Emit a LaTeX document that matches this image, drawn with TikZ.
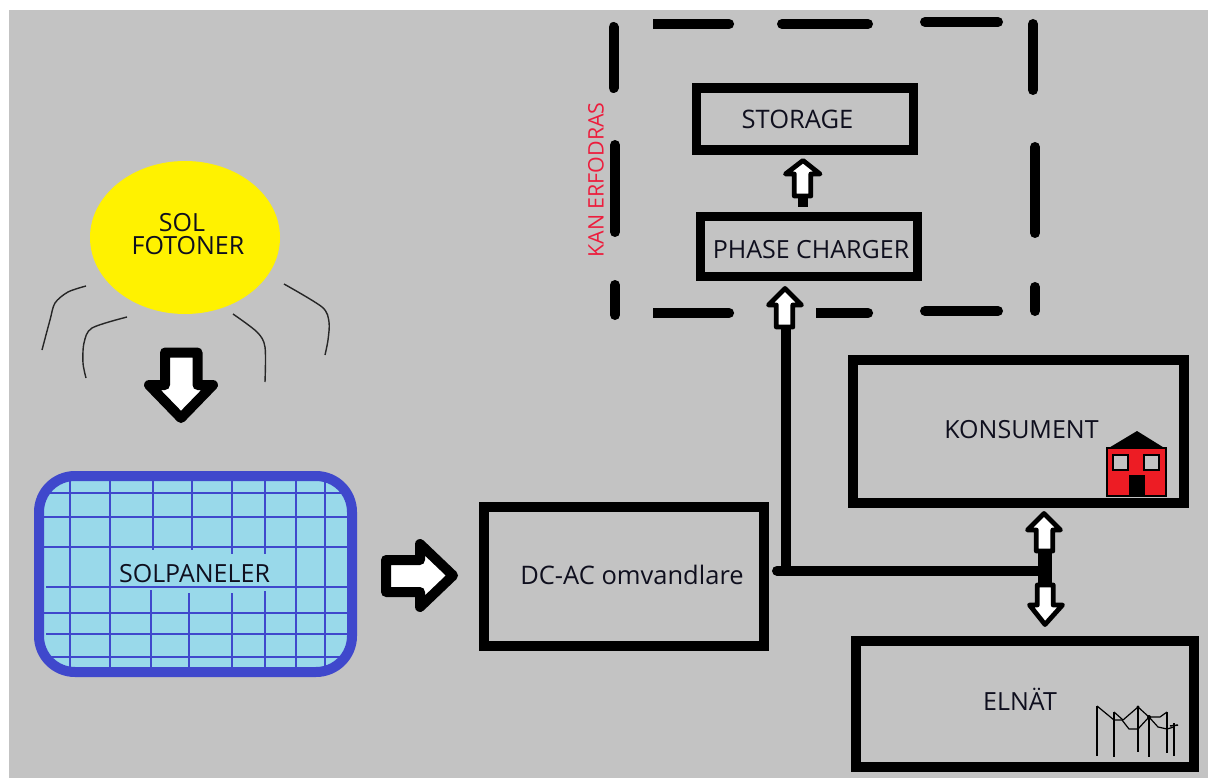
\documentclass[tikz,border=0pt]{standalone}
\usepackage{fontspec}
\usetikzlibrary{shapes.geometric}
\setmainfont{Open Sans}
\definecolor{bgray}{RGB}{195,195,195}
\definecolor{sunyel}{RGB}{255,242,0}
\definecolor{panelfill}{RGB}{153,217,234}
\definecolor{panelblue}{RGB}{63,72,204}
\definecolor{housered}{RGB}{237,28,36}
\definecolor{inktext}{RGB}{15,15,30}
\definecolor{kanred}{RGB}{237,28,60}
\tikzset{
  boxnode/.style={draw=black,line width=9.6pt,fill=none,inner sep=0pt,outer sep=0pt,rectangle},
  labelnode/.style={text=inktext,inner sep=0pt,font=\fontsize{25}{25}\selectfont},
  dashbar/.style={line width=10pt,line cap=round,black},
  wire/.style={line width=10pt,black},
  bigarrow/.style={draw=black,fill=white,line width=10pt,line join=round},
  smallarrow/.style={draw=black,fill=white,line width=4.8pt,line join=round},
  ray/.style={line width=1.4pt,black!85,line join=round},
  gridline/.style={line width=1.6pt,panelblue},
  pole/.style={line width=1.5pt,black},
  powerline/.style={line width=1.2pt,black,line join=round},
}
\begin{document}
\begin{tikzpicture}[x=1pt,y=-1pt]
\useasboundingbox (0,0) rectangle (1208,778);
\fill[white] (0,0) rectangle (1208,778);
\fill[bgray] (9,10) rectangle (1208,778);

% sun
\node[ellipse,fill=sunyel,minimum width=190pt,minimum height=153pt,inner sep=0pt] (sun) at (185,237.5) {};
\draw[ray] plot[smooth,tension=.5] coordinates {(86,286) (68,292) (55,303) (50,320) (42,350)};
\draw[ray] plot[smooth,tension=.5] coordinates {(127,317) (92,328) (84,343) (83,363) (86,378)};
\draw[ray] plot[smooth,tension=.5] coordinates {(233,314) (257,332) (265,347) (265,382)};
\draw[ray] plot[smooth,tension=.5] coordinates {(284,284) (322,307) (329,322) (328,340) (325,355)};

% solar panel
\node[draw=panelblue,line width=10pt,fill=panelfill,rounded corners=36pt,minimum width=313pt,minimum height=196pt,inner sep=0pt] (panel) at (195.5,574) {};
\foreach \x in {70,110,296,325} \draw[gridline] (\x,481) -- (\x,667);
\foreach \x/\a/\b in {153/481/550,192/481/550,232/481/554,265/481/554,151/590/667,189/593/667,232/593/667,265/591/667}
  \draw[gridline] (\x,\a) -- (\x,\b);
\foreach \y/\a/\b in {493/50/343,517/44/347,547/44/347,587/46/347,613/44/347,634/46/347,657/50/340}
  \draw[gridline] (\a,\y) -- (\b,\y);

% boxes
\node[boxnode,minimum width=280pt,minimum height=139.5pt] (dcac) at (624,576.5) {};
\node[boxnode,minimum width=217pt,minimum height=62.5pt] (storage) at (805,119) {};
\node[boxnode,minimum width=217pt,minimum height=60pt] (phase) at (809,246.5) {};
\node[boxnode,minimum width=331pt,minimum height=143.5pt] (konsument) at (1018.5,431.5) {};
\node[boxnode,minimum width=338.5pt,minimum height=126pt] (elnat) at (1025,704) {};

% dashed frame
\draw[dashbar] (613.5,27) -- (613.5,88);
\draw[dashbar] (615,145) -- (615,232);
\draw[dashbar] (615,285) -- (615,315);
\draw[dashbar] (1033,24) -- (1033,90);
\draw[dashbar] (1035,147) -- (1035,233);
\draw[dashbar] (1035,287) -- (1035,311);
\draw[dashbar,line cap=butt] (653,24) -- (729,24);
\draw[dashbar] (729,24) -- (729.1,24);
\draw[dashbar] (782,24) -- (868,24);
\draw[dashbar] (925,22) -- (998,22);
\draw[dashbar,line cap=butt] (653,313) -- (729,313);
\draw[dashbar] (729,313) -- (729.1,313);
\draw[dashbar,line cap=butt] (816,313) -- (868,313);
\draw[dashbar] (868,313) -- (868.1,313);
\draw[dashbar] (925,311) -- (998,311);

% connectors
\coordinate (wirestart) at (777,570.7);
\coordinate (branch) at (786,570.7);
\coordinate (junction) at (1045,570.7);
\coordinate (jtop) at (1045,551);
\coordinate (jbot) at (1045,585);
\coordinate (phasein) at (786,327);
\coordinate (stubtop) at (803,196);
\coordinate (stubbot) at (803,207);
\draw[line width=10pt,line cap=round] (wirestart) -- (junction);
\draw[wire] (branch) -- (phasein);
\draw[line width=14pt] (jtop) -- (jbot);
\draw[wire] (stubtop) -- (stubbot);

% block arrows
\draw[bigarrow] (165,352.5) -- (197.5,352.5) -- (197.5,385) -- (213,385) -- (181,418) -- (149,385) -- (165,385) -- cycle;
\draw[bigarrow] (386,560) -- (420,560) -- (420,544) -- (453,575.5) -- (420,607) -- (420,592) -- (386,592) -- cycle;
\draw[smallarrow] (794.3,196) -- (794.3,174) -- (785.5,174) -- (803,160.5) -- (820,174) -- (810.8,174) -- (810.8,196) -- cycle;
\draw[smallarrow] (776.3,327) -- (776.3,305) -- (768.5,305) -- (785,288.5) -- (801.5,305) -- (792.8,305) -- (792.8,327) -- cycle;
\draw[smallarrow] (1036.3,551) -- (1036.3,530) -- (1027.5,530) -- (1044,513.5) -- (1060.5,530) -- (1052.8,530) -- (1052.8,551) -- cycle;
\draw[smallarrow] (1037.3,585) -- (1037.3,605) -- (1029.5,605) -- (1045,624.5) -- (1062.5,605) -- (1053.2,605) -- (1053.2,585) -- cycle;

% house
\fill[black] (1107,449) -- (1137,431) -- (1166,449) -- cycle;
\draw[fill=housered,line width=1.3pt] (1107,448) rectangle (1166,496);
\draw[fill=bgray,line width=2pt] (1113,455) rectangle (1128,470);
\draw[fill=bgray,line width=2pt] (1144,455) rectangle (1159,470);
\fill[black] (1129,475) rectangle (1145,496);

% pylons
\draw[pole] (1097,706) -- (1097,756);
\draw[pole] (1114,712) -- (1114,757);
\draw[pole] (1138,707) -- (1138,752);
\draw[pole] (1149,716) -- (1149,757);
\draw[pole] (1167,712) -- (1167,753);
\draw[pole] (1174,723) -- (1174,756);
\draw[powerline] (1097,706) -- (1114,720) -- (1122,720) -- (1129,729) -- (1138,729) -- (1149,717) -- (1158,727) -- (1167,729) -- (1174,727);
\draw[powerline] (1114,712) -- (1123,720) -- (1138,707) -- (1149,717) -- (1160,717) -- (1167,712);
\draw[pole] (1170,726) -- (1178,725);
\fill (1149,717) circle (2pt);
\fill (1138,707) circle (1.6pt);

% labels
\node[labelnode] (solt) at (182,223) {SOL};
\node[labelnode] (fotoner) at (188,245.5) {FOTONER};
\node[labelnode] (solpaneler) at (194.5,573.5) {SOLPANELER};
\node[labelnode,font=\fontsize{25.5}{25.5}\selectfont] (dcact) at (632,574.5) {DC-AC omvandlare};
\node[labelnode] (konst) at (1021.5,430) {KONSUMENT};
\node[labelnode] (elnatt) at (1020,699.5) {ELNÄT};
\node[labelnode,font=\fontsize{25.5}{25.5}\selectfont] (stort) at (797.5,119.5) {STORAGE};
\node[labelnode] (phaset) at (811,249.5) {PHASE CHARGER};
\node[labelnode,text=kanred,rotate=90,font=\fontsize{21.4}{21.4}\selectfont] (kan) at (596,180) {KAN ERFODRAS};
\end{tikzpicture}
\end{document}
